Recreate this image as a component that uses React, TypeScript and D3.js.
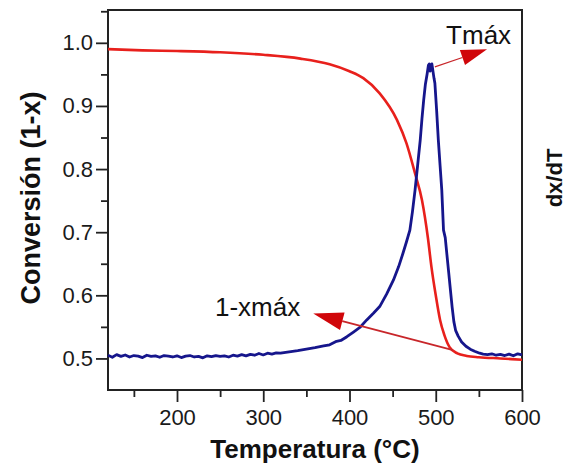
import React, { useEffect, useRef } from "react";
import * as d3 from "d3";

// conversion curve (left axis, 1-x)
const redTemps = [120, 160, 200, 250, 300, 343, 377, 400, 416, 435, 455, 466, 476, 484, 491, 495, 500, 505, 510, 516, 525, 536, 550, 575, 600];
const redValues = [0.99, 0.988, 0.987, 0.985, 0.981, 0.975, 0.966, 0.955, 0.944, 0.92, 0.878, 0.841, 0.793, 0.751, 0.69, 0.645, 0.6, 0.561, 0.537, 0.518, 0.508, 0.504, 0.502, 0.5, 0.498];

// dx/dT curve (right axis, arbitrary units)
const blueTemps = [120, 125, 130, 135, 140, 145, 150, 155, 160, 165, 170, 175, 180, 185, 190, 195, 200, 205, 210, 215, 220, 225, 230, 235, 240, 245, 250, 255, 260, 265, 270, 275, 280, 285, 290, 295, 300, 305, 310, 315, 320, 330, 340, 350, 360, 370, 377, 385, 390, 397, 405, 412, 420, 428, 435, 443, 451, 457, 462, 466, 470, 473, 476, 479, 482, 484, 486, 488, 490, 491.5, 492.5, 493.5, 494.5, 495.5, 496.5, 498, 499, 501, 503, 505, 507, 509, 511, 513, 515, 517, 519, 521, 523, 526, 530, 535, 540, 545, 551, 555, 560, 565, 570, 575, 580, 585, 590, 595, 600];
const blueValues = [0.004, -0.003, 0.006, 0.0, 0.005, -0.002, 0.003, 0.001, -0.004, 0.004, 0.0, 0.002, -0.003, 0.003, 0.001, -0.002, 0.002, -0.004, 0.001, 0.003, -0.002, 0.0, -0.005, 0.002, -0.001, 0.003, 0.0, 0.002, -0.002, 0.004, 0.001, 0.006, 0.002, 0.007, 0.004, 0.01, 0.005, 0.011, 0.008, 0.012, 0.011, 0.016, 0.02, 0.025, 0.03, 0.036, 0.04, 0.052, 0.055, 0.068, 0.085, 0.1, 0.126, 0.15, 0.172, 0.215, 0.264, 0.31, 0.356, 0.395, 0.436, 0.5, 0.574, 0.66, 0.747, 0.82, 0.885, 0.94, 0.975, 1.005, 1.01, 0.985, 0.99, 1.01, 0.99, 0.96, 0.943, 0.85, 0.747, 0.66, 0.574, 0.436, 0.41, 0.35, 0.29, 0.23, 0.17, 0.12, 0.09, 0.07, 0.05, 0.035, 0.025, 0.018, 0.011, 0.008, 0.006, 0.009, 0.004, 0.007, 0.003, 0.008, 0.002, 0.009, 0.005];

const xTicks = [200, 300, 400, 500, 600];
const xMinorTicks = [150, 250, 350, 450, 550];
const yTicks = [0.5, 0.6, 0.7, 0.8, 0.9, 1.0];
const yMinorTicks = [0.55, 0.65, 0.75, 0.85, 0.95, 1.05];

// annotations in data units (T, 1-x)
const tmaxArrow = [[499, 0.962], [559.5, 0.99]];
const xmaxArrow = [[520, 0.513], [358, 0.571]];
const tmaxLabel = [512, 0.998];
const xmaxLabel = [244, 0.567];

const font = "Arial, 'Liberation Sans', sans-serif";

const App = () => {
  const svgRef = useRef(null);

  useEffect(() => {
    const m = { left: 108, right: 522, top: 10, bottom: 390 };
    const svg = d3.select(svgRef.current);
    svg.selectAll("*").remove();

    const x = d3.scaleLinear().domain([120, 600]).range([m.left, m.right]);
    const y = d3.scaleLinear().domain([0.45, 1.052]).range([m.bottom, m.top]);
    const yRight = d3.scaleLinear().domain([-0.116, 1.196]).range([m.bottom, m.top]);

    // axes
    const xAxis = d3.axisBottom(x).tickValues(xTicks).tickSize(12).tickPadding(7).tickFormat(d3.format("d"));
    const xMinor = d3.axisBottom(x).tickValues(xMinorTicks).tickSize(7).tickFormat(() => "");
    const yAxis = d3.axisLeft(y).tickValues(yTicks).tickSize(12).tickPadding(3).tickFormat(d3.format(".1f"));
    const yMinor = d3.axisLeft(y).tickValues(yMinorTicks).tickSize(7).tickFormat(() => "");

    const styleAxis = (g) => {
      g.select(".domain").remove();
      g.selectAll("line").attr("stroke", "#222").attr("stroke-width", 1.8);
      g.selectAll("text").attr("font-family", font).attr("font-size", 22).attr("fill", "#1a1a1a");
    };

    svg.append("g").attr("transform", `translate(0,${m.bottom})`).call(xAxis).call(styleAxis);
    svg.append("g").attr("transform", `translate(0,${m.bottom})`).call(xMinor).call(styleAxis);
    svg.append("g").attr("transform", `translate(${m.left},0)`).call(yAxis).call(styleAxis);
    svg.append("g").attr("transform", `translate(${m.left},0)`).call(yMinor).call(styleAxis);

    // frame
    const frame = [
      [m.left, m.top, m.right, m.top],
      [m.right, m.top, m.right, m.bottom],
      [m.left, m.bottom, m.right, m.bottom],
      [m.left, m.top, m.left, m.bottom],
    ];
    svg.append("g").selectAll("line").data(frame).join("line")
      .attr("x1", (d) => d[0]).attr("y1", (d) => d[1])
      .attr("x2", (d) => d[2]).attr("y2", (d) => d[3])
      .attr("stroke", "#222").attr("stroke-width", 2).attr("stroke-linecap", "square");

    // curves
    const redLine = d3.line().x((d, i) => x(redTemps[i])).y((d) => y(d)).curve(d3.curveMonotoneX);
    const blueLine = d3.line().x((d, i) => x(blueTemps[i])).y((d) => yRight(d));

    svg.append("path").datum(redValues).attr("d", redLine)
      .attr("fill", "none").attr("stroke", "#e8201c").attr("stroke-width", 2.6);
    svg.append("path").datum(blueValues).attr("d", blueLine)
      .attr("fill", "none").attr("stroke", "#16168c").attr("stroke-width", 2.8).attr("stroke-linejoin", "round");

    // arrows
    const drawArrow = (pts, lw, headLen, headHalf) => {
      const [x0, y0] = [x(pts[0][0]), y(pts[0][1])];
      const [x1, y1] = [x(pts[1][0]), y(pts[1][1])];
      const ang = Math.atan2(y1 - y0, x1 - x0);
      const bx = x1 - headLen * Math.cos(ang);
      const by = y1 - headLen * Math.sin(ang);
      svg.append("line").attr("x1", x0).attr("y1", y0).attr("x2", bx).attr("y2", by)
        .attr("stroke", "#c8262a").attr("stroke-width", lw);
      const px = -Math.sin(ang) * headHalf;
      const py = Math.cos(ang) * headHalf;
      svg.append("polygon")
        .attr("points", `${x1},${y1} ${bx + px},${by + py} ${bx - px},${by - py}`)
        .attr("fill", "#d0060a");
    };
    drawArrow(tmaxArrow, 1.2, 26, 8);
    drawArrow(xmaxArrow, 1.8, 30, 9);

    // annotation text
    svg.append("text").attr("x", x(tmaxLabel[0])).attr("y", y(tmaxLabel[1]))
      .attr("font-family", font).attr("font-size", 26).attr("fill", "#111").text("Tmáx");
    svg.append("text").attr("x", x(xmaxLabel[0])).attr("y", y(xmaxLabel[1]))
      .attr("font-family", font).attr("font-size", 26).attr("fill", "#111").text("1-xmáx");

    // axis titles
    svg.append("text").attr("x", (m.left + m.right) / 2).attr("y", 458)
      .attr("text-anchor", "middle").attr("font-family", font).attr("font-size", 26)
      .attr("font-weight", "bold").attr("fill", "#111").text("Temperatura (°C)");
    svg.append("text").attr("transform", `translate(40,198) rotate(-90)`)
      .attr("text-anchor", "middle").attr("font-family", font).attr("font-size", 27)
      .attr("font-weight", "bold").attr("fill", "#111").text("Conversión (1-x)");
    svg.append("text").attr("transform", `translate(562,178) rotate(-90)`)
      .attr("text-anchor", "middle").attr("font-family", font).attr("font-size", 22)
      .attr("font-weight", "bold").attr("fill", "#111").text("dx/dT");
  }, []);

  return (
    <svg
      ref={svgRef}
      width={572}
      height={466}
      style={{ position: "absolute", left: 0, top: 0, background: "#fff", display: "block" }}
    />
  );
};

export default App;
